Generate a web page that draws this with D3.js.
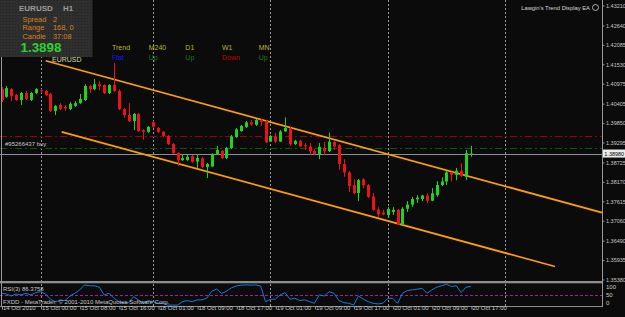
<!DOCTYPE html>
<html><head><meta charset="utf-8">
<script src="https://cdn.jsdelivr.net/npm/d3@7"></script>
<style>
html,body{margin:0;padding:0;background:#0b0b0b;overflow:hidden}
svg{display:block}
text{font-family:"Liberation Sans",Arial,sans-serif}
</style></head><body>
<svg id="c" width="625" height="317"></svg>
<script>
// ---------------- DATA ----------------
const symbol = "EURUSD";
const timeframe = "H1";
const openP  = [1.4082,1.4060,1.4082,1.4065,1.4051,1.4071,1.4051,1.4071,1.4079,1.4077,
                1.4068,1.4020,1.4037,1.4031,1.4025,1.4034,1.4042,1.4051,1.4091,1.4082,
                1.4096,1.4094,1.4071,1.4094,1.4077,1.4025,1.4008,1.3991,1.4011,1.3965,
                1.3960,1.3988,1.3971,1.3960,1.3948,1.3925,1.3899,1.3879,1.3879,1.3891,
                1.3875,1.3884,1.3859,1.3861,1.3897,1.3906,1.3885,1.3914,1.3945,1.3962,
                1.3974,1.3987,1.3980,1.3994,1.3991,1.3932,1.3947,1.3932,1.3961,1.3970,
                1.3925,1.3934,1.3922,1.3918,1.3905,1.3895,1.3914,1.3905,1.3931,1.3922,
                1.3868,1.3844,1.3808,1.3785,1.3824,1.3808,1.3775,1.3738,1.3730,1.3722,
                1.3731,1.3737,1.3695,1.3740,1.3752,1.3767,1.3768,1.3778,1.3763,1.3779,
                1.3808,1.3818,1.3844,1.3837,1.3849,1.3831,1.3896];
const highP  = [1.4088,1.4091,1.4085,1.4068,1.4074,1.4077,1.4074,1.4085,1.4082,1.4079,
                1.4071,1.4037,1.4042,1.4037,1.4045,1.4048,1.4068,1.4096,1.4094,1.4111,
                1.4105,1.4096,1.4096,1.4157,1.4082,1.4028,1.4042,1.4014,1.4014,1.3968,
                1.3977,1.3991,1.3974,1.3962,1.3951,1.3928,1.3902,1.3894,1.3894,1.3894,
                1.3894,1.3888,1.3871,1.3899,1.3920,1.3908,1.3917,1.3951,1.3971,1.3980,
                1.3991,1.3994,1.3997,1.3997,1.3994,1.3951,1.3957,1.3965,1.4001,1.3974,
                1.3937,1.3937,1.3928,1.3928,1.3911,1.3928,1.3931,1.3958,1.3934,1.3925,
                1.3882,1.3848,1.3825,1.3825,1.3828,1.3811,1.3785,1.3745,1.3737,1.3745,
                1.3745,1.3740,1.3745,1.3762,1.3774,1.3779,1.3780,1.3785,1.3799,1.3819,
                1.3830,1.3848,1.3846,1.3857,1.3870,1.3908,1.3920];
const lowP   = [1.4045,1.4057,1.4048,1.4048,1.4037,1.4051,1.4048,1.4068,1.4071,1.4062,
                1.4017,1.4008,1.4022,1.4020,1.4022,1.4031,1.4040,1.4048,1.4071,1.4079,
                1.4079,1.4068,1.4068,1.4074,1.4022,1.4000,1.3988,1.3965,1.3960,1.3937,
                1.3957,1.3971,1.3957,1.3945,1.3922,1.3897,1.3862,1.3877,1.3877,1.3871,
                1.3857,1.3857,1.3828,1.3859,1.3894,1.3882,1.3882,1.3911,1.3942,1.3960,
                1.3971,1.3977,1.3977,1.3977,1.3928,1.3931,1.3928,1.3931,1.3960,1.3920,
                1.3922,1.3917,1.3908,1.3894,1.3894,1.3882,1.3894,1.3902,1.3908,1.3851,
                1.3831,1.3788,1.3782,1.3762,1.3799,1.3771,1.3734,1.3717,1.3722,1.3714,
                1.3722,1.3694,1.3694,1.3731,1.3745,1.3757,1.3762,1.3757,1.3762,1.3774,
                1.3805,1.3808,1.3818,1.3822,1.3831,1.3822,1.3889];
const closeP = [1.4051,1.4085,1.4062,1.4051,1.4071,1.4054,1.4071,1.4082,1.4077,1.4065,
                1.4020,1.4034,1.4025,1.4027,1.4040,1.4042,1.4054,1.4091,1.4082,1.4096,
                1.4091,1.4071,1.4094,1.4077,1.4025,1.4008,1.3991,1.4011,1.3962,1.3960,
                1.3974,1.3974,1.3960,1.3948,1.3925,1.3899,1.3879,1.3885,1.3889,1.3874,
                1.3885,1.3859,1.3868,1.3897,1.3908,1.3885,1.3914,1.3947,1.3967,1.3977,
                1.3987,1.3981,1.3994,1.3988,1.3930,1.3948,1.3932,1.3961,1.3971,1.3925,
                1.3934,1.3918,1.3918,1.3904,1.3897,1.3917,1.3905,1.3932,1.3918,1.3868,
                1.3844,1.3805,1.3785,1.3822,1.3807,1.3774,1.3737,1.3724,1.3724,1.3740,
                1.3737,1.3695,1.3740,1.3752,1.3768,1.3772,1.3778,1.3763,1.3784,1.3808,
                1.3818,1.3844,1.3837,1.3849,1.3834,1.3899,1.3898];
const rsiValues = [56,53,44,53,49,56,49,59,63,53,
                   30,19,24,24,44,56,71,93,89,89,
                   83,49,56,34,19,12,15,41,27,12,
                   24,19,12,12,4,4,4,19,24,19,
                   27,27,35,65,75,55,65,80,88,92,
                   93,92,93,88,19,30,30,49,59,30,
                   34,24,27,19,12,49,44,63,56,24,
                   15,12,4,44,30,19,12,9,12,34,
                   34,12,56,68,71,74,78,56,71,83,
                   89,96,86,89,59,83,86.3758];
const timeTickBars   = [0,8,16,24,32,40,48,56,64,72,80,88,96];
const timeTickLabels = ["14 Oct 2010","15 Oct 00:00","15 Oct 08:00","15 Oct 16:00","18 Oct 01:00",
                        "18 Oct 09:00","18 Oct 17:00","19 Oct 01:00","19 Oct 09:00","19 Oct 17:00",
                        "20 Oct 01:00","20 Oct 09:00","20 Oct 17:00"];
const daySeparatorBars = [8,31,55,79,103];
const priceTicks = [1.43210,1.42640,1.42085,1.41530,1.40975,1.40405,1.39850,1.39295,
                    1.38725,1.38170,1.37615,1.37060,1.36490,1.35935,1.35380];
const bidPrice = 1.3898;
const orderPrice = 1.3913;
const orderLabel = "#95266437 buy";
const targetPrice = 1.3948;
const channelUpper = [[9.03,1.4163],[122.8,1.3729]];
const channelLower = [[12.3,1.3960],[113.2,1.3575]];
const rsiTicks = [100,50,0];
const rsiLevel = 50;
const infoRows = [["Spread","2"],["Range","168, 0"],["Candle","37:08"]];
const trendHeaders = ["Trend","M240","D1","W1","MN"];
const trendValues  = ["Flat","Up","Up","Down","Up"];
const eaName = "Lawgin's Trend Display EA";
const rsiName = "RSI(3) 86.3758";
const copyright = "FXDD - MetaTrader, \u00a9 2001-2010 MetaQuotes Software Corp.";

// ---------------- LAYOUT ----------------
const W = 625, H = 317;
const plotRight = 602, mainBottom = 281, rsiTop = 283.3, rsiBottom = 306;
const svg = d3.select("#c");
svg.append("rect").attr("width",W).attr("height",H).attr("fill","#0b0b0b");

const x = d3.scaleLinear().domain([-0.307, 122.8]).range([0, plotRight]);
const y = d3.scaleLinear().domain([1.3538, 1.4321]).range([279.5, 5.5]);
const yr = d3.scaleLinear().domain([0, 100]).range([rsiBottom, rsiTop]);
const px = i => Math.round(x(i));

// day separators
svg.append("g").selectAll("line").data(daySeparatorBars).join("line")
  .attr("x1", d => px(d)+0.5).attr("x2", d => px(d)+0.5)
  .attr("y1", 0).attr("y2", rsiBottom)
  .attr("stroke","#9a9a9a").attr("stroke-width",1).attr("stroke-dasharray","2,2");

// horizontal level lines
const hl = svg.append("g");
hl.append("line").attr("x1",0).attr("x2",plotRight).attr("y1",Math.round(y(targetPrice))+0.5).attr("y2",Math.round(y(targetPrice))+0.5)
  .attr("stroke","#a00000").attr("stroke-dasharray","7,3,2,3");
hl.append("line").attr("x1",0).attr("x2",plotRight).attr("y1",Math.round(y(orderPrice))+0.5).attr("y2",Math.round(y(orderPrice))+0.5)
  .attr("stroke","#0b5a0b").attr("stroke-width",1.2).attr("stroke-dasharray","7,3,2,3");
hl.append("line").attr("x1",0).attr("x2",plotRight).attr("y1",Math.round(y(bidPrice))+0.5).attr("y2",Math.round(y(bidPrice))+0.5)
  .attr("stroke","#8a8e9a");
hl.append("text").attr("x",5).attr("y",y(orderPrice)-2).attr("fill","#c8c8c8").attr("font-size",6).text(orderLabel);

// channel
const ch = svg.append("g").attr("stroke","#ffa000").attr("stroke-width",1.7).attr("fill","none");
[channelUpper, channelLower].forEach(c => {
  ch.append("line").attr("x1",x(c[0][0])).attr("y1",y(c[0][1])).attr("x2",x(c[1][0])).attr("y2",y(c[1][1]));
});

// candles
const bars = d3.range(openP.length).map(i => ({i, o:openP[i], h:highP[i], l:lowP[i], c:closeP[i]}));
const up = "#1fd41f", dn = "#f01212";
const cg = svg.append("g");
cg.selectAll("line").data(bars).join("line")
  .attr("x1", d => px(d.i)+0.5).attr("x2", d => px(d.i)+0.5)
  .attr("y1", d => y(d.h)).attr("y2", d => y(d.l))
  .attr("stroke", d => d.c >= d.o ? up : dn).attr("stroke-width",1);
cg.selectAll("rect").data(bars).join("rect")
  .attr("x", d => px(d.i)-1).attr("width",3)
  .attr("y", d => y(Math.max(d.o,d.c)))
  .attr("height", d => Math.max(1, Math.abs(y(d.o)-y(d.c))))
  .attr("fill", d => d.c >= d.o ? up : dn);

// RSI panel
svg.append("rect").attr("x",0).attr("y",mainBottom).attr("width",plotRight+1).attr("height",2.3).attr("fill","#8c8c8c");
svg.append("line").attr("x1",0).attr("x2",plotRight).attr("y1",rsiBottom+0.5).attr("y2",rsiBottom+0.5).attr("stroke","#8c8c8c");
svg.append("line").attr("x1",0).attr("x2",plotRight).attr("y1",Math.round(yr(rsiLevel))+0.5).attr("y2",Math.round(yr(rsiLevel))+0.5)
  .attr("stroke","#a020a0").attr("stroke-dasharray","3,2");
svg.append("path").datum(rsiValues)
  .attr("d", d3.line().x((d,i)=>x(i)).y(d=>yr(d)))
  .attr("fill","none").attr("stroke","#1e78dc").attr("stroke-width",1);
svg.append("text").attr("x",3).attr("y",291).attr("fill","#c8c8c8").attr("font-size",6).text(rsiName);
svg.append("text").attr("x",3).attr("y",303.5).attr("fill","#c8c8c8").attr("font-size",6).text(copyright);
svg.append("g").selectAll("text").data(rsiTicks).join("text")
  .attr("x",606).attr("y", d => Math.min(Math.max(yr(d), rsiTop+4), rsiBottom-3) + 2)
  .attr("fill","#c8c8c8").attr("font-size",6).text(d => d);

// frame
svg.append("line").attr("x1",1.5).attr("x2",1.5).attr("y1",0).attr("y2",rsiBottom).attr("stroke","#9a9a9a");
svg.append("line").attr("x1",plotRight+0.5).attr("x2",plotRight+0.5).attr("y1",0).attr("y2",rsiBottom+1).attr("stroke","#9a9a9a");

// price axis
const pa = svg.append("g").attr("transform",`translate(${plotRight+0.5},0)`)
  .call(d3.axisRight(y).tickValues(priceTicks).tickFormat(d3.format(".5f")).tickSize(2).tickPadding(1.5));
pa.select(".domain").remove();
pa.selectAll("line").attr("stroke","#9a9a9a");
pa.selectAll("text").attr("fill","#c8c8c8").attr("font-size",5.5).attr("font-family","Liberation Sans");
// bid box
svg.append("rect").attr("x",603).attr("y",y(bidPrice)-4).attr("width",22).attr("height",8).attr("fill","#ececec");
svg.append("text").attr("x",604.3).attr("y",y(bidPrice)+2).attr("fill","#000").attr("font-size",5.5).text(d3.format(".5f")(bidPrice));

// time axis
const ta = svg.append("g").attr("transform",`translate(0,${rsiBottom+0.5})`)
  .call(d3.axisBottom(x).tickValues(timeTickBars).tickFormat((d,k)=>timeTickLabels[k]).tickSize(3).tickPadding(1));
ta.select(".domain").remove();
ta.selectAll(".tick line").attr("stroke","#9a9a9a").attr("transform","translate(0.5,0)");
ta.selectAll("text").attr("fill","#c8c8c8").attr("font-size",6).attr("font-family","Liberation Sans")
  .attr("text-anchor","start").attr("dx",1).attr("dy","-0.1em");

// info box
const defs = svg.append("defs");
const pat = defs.append("pattern").attr("id","dots").attr("width",3).attr("height",3).attr("patternUnits","userSpaceOnUse");
pat.append("rect").attr("width",3).attr("height",3).attr("fill","#2f2f2f");
pat.append("rect").attr("width",1).attr("height",1).attr("fill","#232323");
svg.append("rect").attr("x",0).attr("y",0).attr("width",92.5).attr("height",57).attr("fill","url(#dots)");
svg.append("text").attr("x",19).attr("y",11.3).attr("fill","#9c9c9c").attr("font-size",8).attr("font-weight","bold")
  .text(symbol);
svg.append("text").attr("x",63).attr("y",11.3).attr("fill","#9c9c9c").attr("font-size",8).attr("font-weight","bold")
  .text(timeframe);
const ir = svg.append("g").attr("fill","#d8841c").attr("font-size",7.4);
infoRows.forEach((r,k) => {
  ir.append("text").attr("x",22.5).attr("y",21.5 + k*8.5).text(r[0]);
  ir.append("text").attr("x",53).attr("y",21.5 + k*8.5).text(r[1]);
});
svg.append("text").attr("x",20.5).attr("y",52.2).attr("fill","#2ed22e").attr("font-size",13.4).attr("font-weight","bold")
  .attr("font-family","DejaVu Sans").text(d3.format(".4f")(bidPrice));
svg.append("text").attr("x",52).attr("y",61.5).attr("fill","#dcdcb0").attr("font-size",7).text(symbol);

// trend display
const trendColor = v => v === "Up" ? "#1c7a1c" : v === "Down" ? "#c80000" : "#1414ff";
const tx = d3.scalePoint().domain(trendHeaders).range([112, 258.7]);
svg.append("g").selectAll("text").data(trendHeaders).join("text")
  .attr("x", d => tx(d)).attr("y", 49.5).attr("fill","#b8b830").attr("font-size",7).text(d => d);
svg.append("g").selectAll("text").data(trendValues).join("text")
  .attr("x", (d,k) => tx(trendHeaders[k])).attr("y", 59.5).attr("fill", d => trendColor(d)).attr("font-size",7).text(d => d);

// EA label
svg.append("text").attr("x",590).attr("y",10).attr("text-anchor","end").attr("fill","#d8d8d8").attr("font-size",5.8).text(eaName);
svg.append("circle").attr("cx",595.5).attr("cy",7.5).attr("r",3).attr("fill","none").attr("stroke","#b0b0b0").attr("stroke-width",1);
</script>
</body></html>
